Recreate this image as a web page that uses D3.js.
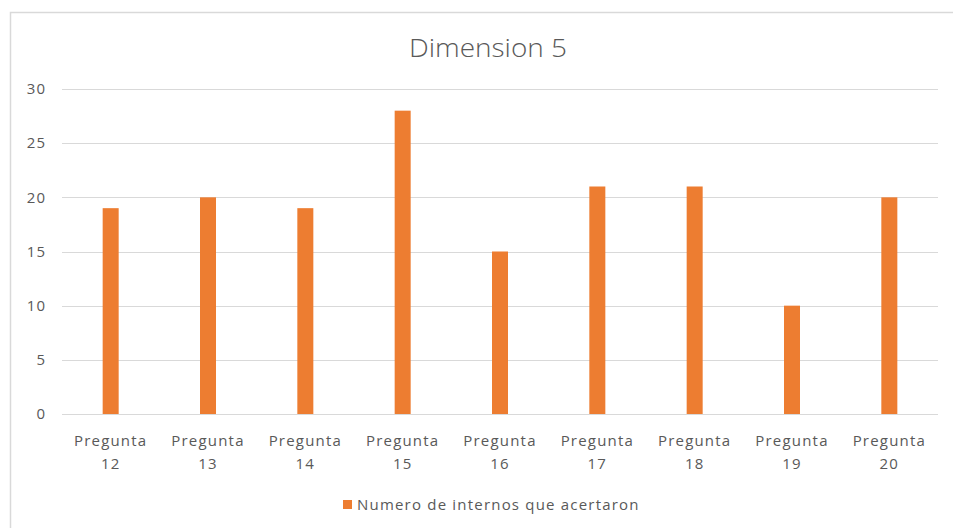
<!DOCTYPE html>
<html>
<head>
<meta charset="utf-8">
<script src="https://cdn.jsdelivr.net/npm/d3@7"></script>
<style>
  body { margin: 0; background: #fff; }
  svg { display: block; }
  text { font-family: "Open Sans", "Liberation Sans", sans-serif; fill: #595959; }
</style>
</head>
<body>
<svg id="chart" width="953" height="528"></svg>
<script>
// Chart data
const categories = ["Pregunta 12", "Pregunta 13", "Pregunta 14", "Pregunta 15", "Pregunta 16",
                    "Pregunta 17", "Pregunta 18", "Pregunta 19", "Pregunta 20"];
const values = [19, 20, 19, 28, 15, 21, 21, 10, 20];
const yTicks = [0, 5, 10, 15, 20, 25, 30];
const seriesName = "Numero de internos que acertaron";
const chartTitle = "Dimension 5";

const svg = d3.select("#chart");
const W = 953, H = 528;
const plot = { left: 62, right: 938, top: 89, bottom: 414 };

// Outer chart frame
svg.append("rect")
  .attr("x", 10.5).attr("y", 12.5)
  .attr("width", W + 10).attr("height", H + 10)
  .attr("fill", "#fff").attr("stroke", "#d9d9d9").attr("stroke-width", 1.5);

const x = d3.scaleBand().domain(categories).range([plot.left, plot.right]);
const y = d3.scaleLinear().domain([0, 30]).range([plot.bottom, plot.top]);

// Horizontal gridlines
svg.append("g").selectAll("line").data(yTicks).join("line")
  .attr("x1", plot.left).attr("x2", plot.right)
  .attr("y1", d => Math.round(y(d)) + 0.5).attr("y2", d => Math.round(y(d)) + 0.5)
  .attr("stroke", "#d9d9d9").attr("stroke-width", 1);

// Y axis labels
const yAxis = d3.axisLeft(y).tickValues(yTicks).tickSize(0).tickPadding(0);
const yg = svg.append("g").attr("transform", `translate(${plot.left - 16},0)`).call(yAxis);
yg.select(".domain").remove();
yg.selectAll("text")
  .attr("font-size", 15).attr("fill", "#595959")
  .attr("letter-spacing", 1)
  .style("font-family", "'Open Sans', sans-serif");

// Bars
const barW = 16;
svg.append("g").selectAll("rect").data(values).join("rect")
  .attr("x", (d, i) => x(categories[i]) + x.bandwidth() / 2 - barW / 2)
  .attr("width", barW)
  .attr("y", d => y(d))
  .attr("height", d => y(0) - y(d))
  .attr("fill", "#ED7D31");

// Category labels, two lines each
const xl = svg.append("g").selectAll("text").data(categories).join("text")
  .attr("text-anchor", "middle")
  .attr("font-size", 15)
  .attr("letter-spacing", 1.2)
  .attr("x", d => x(d) + x.bandwidth() / 2);
xl.append("tspan").attr("x", d => x(d) + x.bandwidth() / 2).attr("y", 446)
  .text(d => d.split(" ")[0]);
xl.append("tspan").attr("x", d => x(d) + x.bandwidth() / 2).attr("y", 469)
  .text(d => d.split(" ")[1]);

// Title
svg.append("text")
  .attr("x", 488).attr("y", 57)
  .attr("text-anchor", "middle")
  .attr("font-size", 25)
  .attr("font-weight", 300)
  .attr("textLength", 158)
  .attr("lengthAdjust", "spacingAndGlyphs")
  .attr("fill", "#404040")
  .text(chartTitle);

// Legend
const lg = svg.append("g").attr("transform", "translate(343,500)");
lg.append("rect").attr("x", 0).attr("y", 0).attr("width", 9).attr("height", 9).attr("fill", "#ED7D31");
lg.append("text").attr("x", 14).attr("y", 10).attr("font-size", 15)
  .attr("letter-spacing", 1.2).text(seriesName);
</script>
</body>
</html>
